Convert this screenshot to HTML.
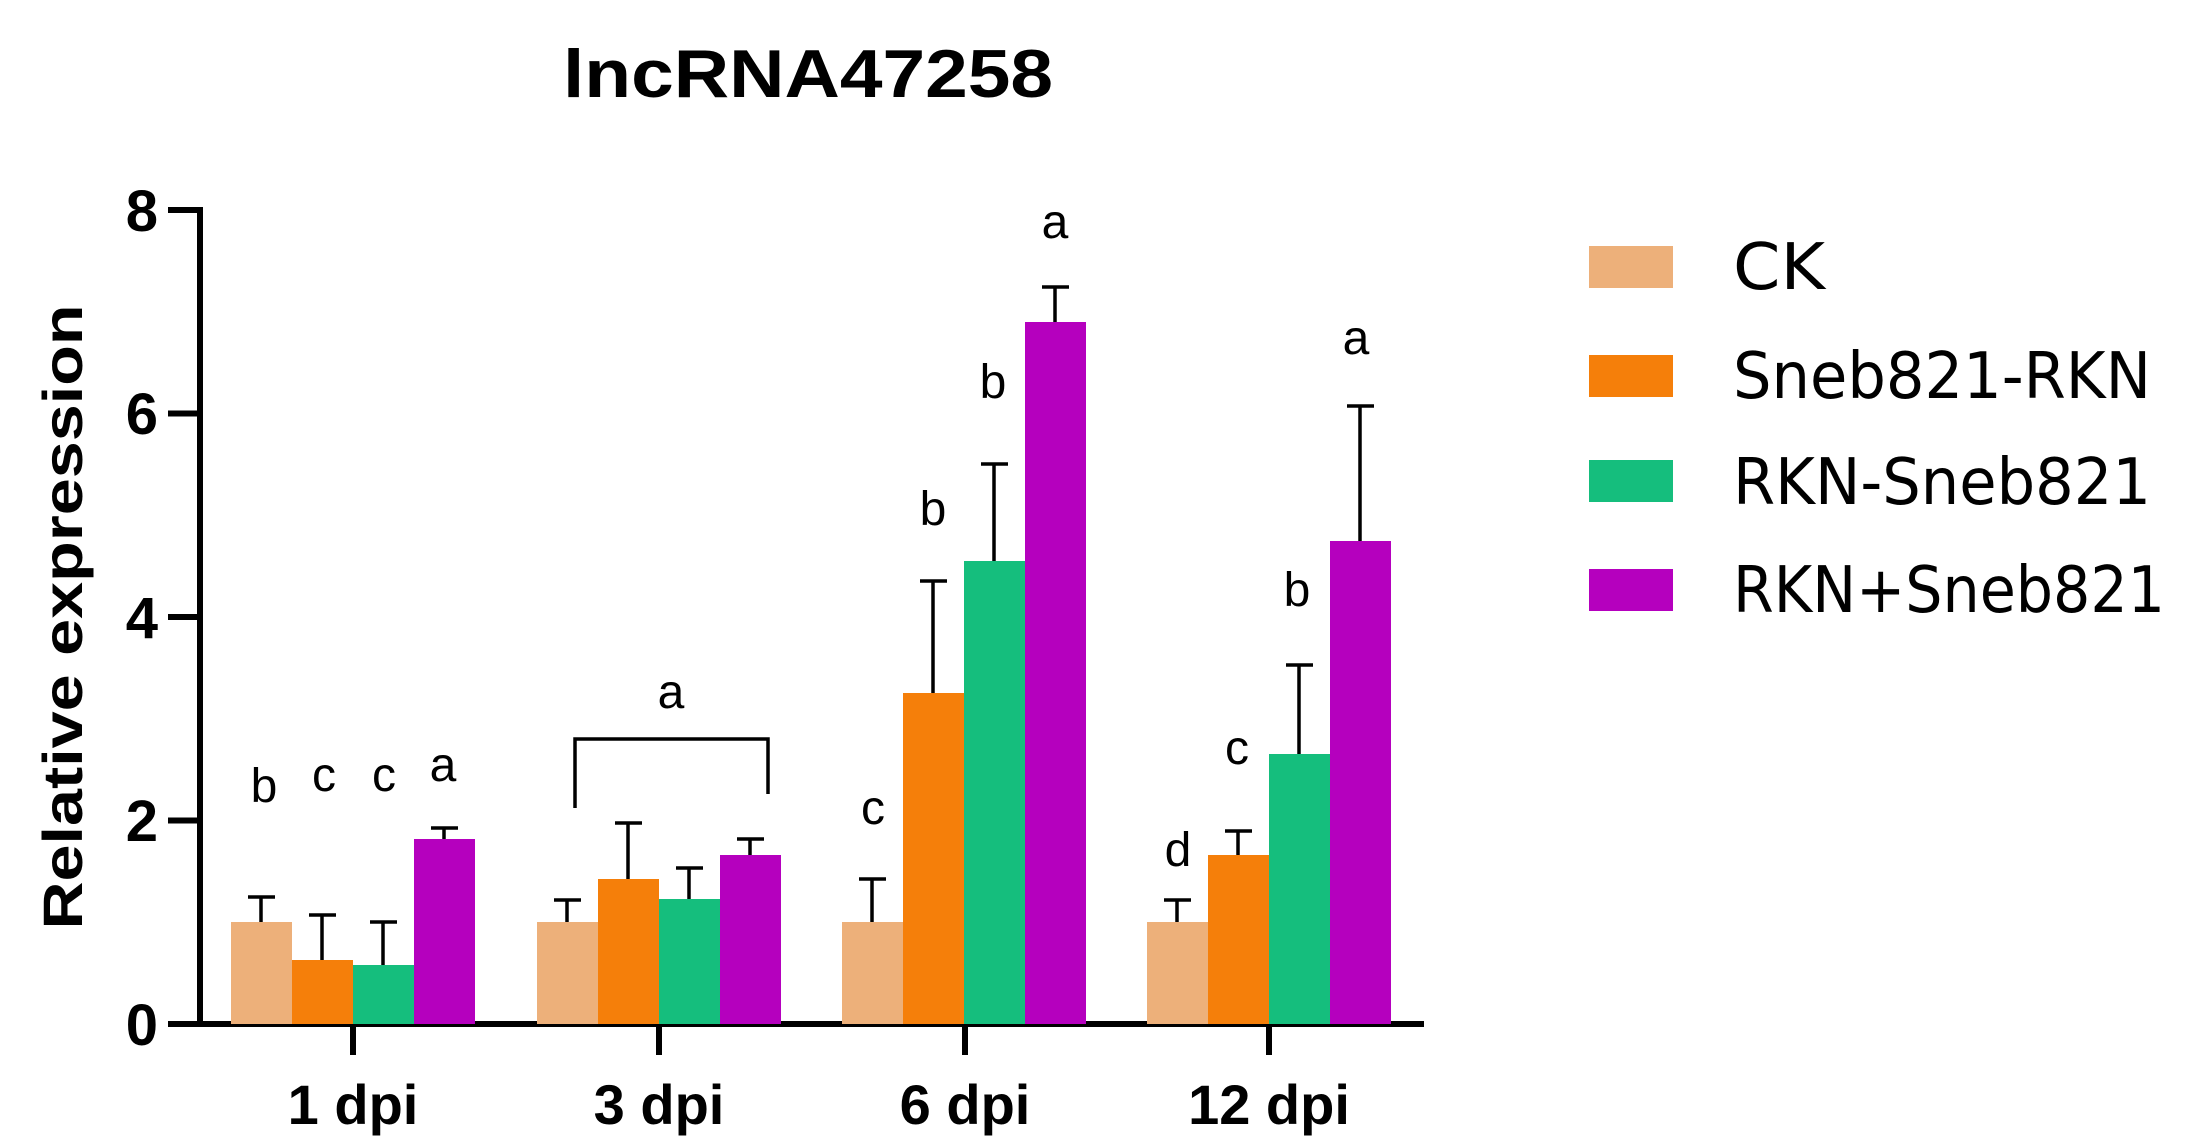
<!DOCTYPE html>
<html><head><meta charset="utf-8"><style>html,body{margin:0;padding:0;background:#fff}svg{display:block}</style></head>
<body>
<svg width="2188" height="1146" viewBox="0 0 2188 1146" xmlns="http://www.w3.org/2000/svg" font-family="Liberation Sans, Arial, sans-serif">
<rect width="2188" height="1146" fill="#fff"/>
<text x="808" y="97" font-size="68" font-weight="bold" text-anchor="middle" textLength="490" lengthAdjust="spacingAndGlyphs">lncRNA47258</text>
<text transform="translate(82,617) rotate(-90)" font-size="56" font-weight="bold" text-anchor="middle" textLength="625" lengthAdjust="spacingAndGlyphs">Relative expression</text>
<g stroke="#000" stroke-width="6" fill="none">
<line x1="200" y1="207" x2="200" y2="1027"/>
<line x1="197" y1="1024" x2="1424" y2="1024"/>
<line x1="168" y1="210" x2="200" y2="210"/>
<line x1="168" y1="413.5" x2="200" y2="413.5"/>
<line x1="168" y1="617" x2="200" y2="617"/>
<line x1="168" y1="820.5" x2="200" y2="820.5"/>
<line x1="168" y1="1024" x2="200" y2="1024"/>
<line x1="353" y1="1024" x2="353" y2="1055"/>
<line x1="659" y1="1024" x2="659" y2="1055"/>
<line x1="965" y1="1024" x2="965" y2="1055"/>
<line x1="1269" y1="1024" x2="1269" y2="1055"/>
</g>
<g font-size="58" font-weight="bold" text-anchor="end">
<text x="158" y="231">8</text><text x="158" y="434">6</text><text x="158" y="638">4</text><text x="158" y="841">2</text><text x="158" y="1045">0</text>
</g>
<g font-size="56" font-weight="bold" text-anchor="middle">
<text x="353" y="1124">1 dpi</text><text x="659" y="1124">3 dpi</text><text x="965" y="1124">6 dpi</text><text x="1269" y="1124">12 dpi</text>
</g>
<g stroke="#000" stroke-width="3.5">
<rect x="231" y="922" width="61" height="102" fill="#EDB07A" stroke="none"/>
<rect x="292" y="960" width="61" height="64" fill="#F57F0A" stroke="none"/>
<rect x="353" y="965" width="61" height="59" fill="#15BE7D" stroke="none"/>
<rect x="414" y="839" width="61" height="185" fill="#B500BE" stroke="none"/>
<path d="M261 922V897M248 897H275M322 960V915M309 915H336M383 965V922M370 922H397M444 839V828M431 828H458"/>
<rect x="537" y="922" width="61" height="102" fill="#EDB07A" stroke="none"/>
<rect x="598" y="879" width="61" height="145" fill="#F57F0A" stroke="none"/>
<rect x="659" y="899" width="61" height="125" fill="#15BE7D" stroke="none"/>
<rect x="720" y="855" width="61" height="169" fill="#B500BE" stroke="none"/>
<path d="M567 922V900M554 900H581M628 879V823M615 823H642M689 899V868M676 868H703M750 855V839M737 839H764"/>
<rect x="842" y="922" width="61" height="102" fill="#EDB07A" stroke="none"/>
<rect x="903" y="693" width="61" height="331" fill="#F57F0A" stroke="none"/>
<rect x="964" y="561" width="61" height="463" fill="#15BE7D" stroke="none"/>
<rect x="1025" y="322" width="61" height="702" fill="#B500BE" stroke="none"/>
<path d="M872 922V879M859 879H886M933 693V581M920 581H947M994 561V464M981 464H1008M1055 322V287M1042 287H1069"/>
<rect x="1147" y="922" width="61" height="102" fill="#EDB07A" stroke="none"/>
<rect x="1208" y="855" width="61" height="169" fill="#F57F0A" stroke="none"/>
<rect x="1269" y="754" width="61" height="270" fill="#15BE7D" stroke="none"/>
<rect x="1330" y="541" width="61" height="483" fill="#B500BE" stroke="none"/>
<path d="M1177 922V900M1164 900H1191M1238 855V831M1225 831H1252M1299 754V665M1286 665H1313M1360 541V406M1347 406H1374"/>
<path d="M575 808V739H768V794" fill="none"/>
</g>
<g font-size="48" text-anchor="middle">
<text x="264" y="802">b</text><text x="324" y="791">c</text><text x="384" y="791">c</text><text x="443" y="781">a</text>
<text x="671" y="708">a</text>
<text x="873" y="824">c</text><text x="933" y="525">b</text><text x="993" y="398">b</text><text x="1055" y="238">a</text>
<text x="1178" y="866">d</text><text x="1237" y="764">c</text><text x="1297" y="606">b</text><text x="1356" y="354">a</text>
</g>
<g>
<rect x="1589" y="246" width="84" height="42" fill="#EDB07A"/>
<rect x="1589" y="355" width="84" height="42" fill="#F57F0A"/>
<rect x="1589" y="460" width="84" height="42" fill="#15BE7D"/>
<rect x="1589" y="569" width="84" height="42" fill="#B500BE"/>
</g>
<g font-size="64" font-family="DejaVu Sans, Liberation Sans, sans-serif">
<text x="1733" y="289" textLength="92" lengthAdjust="spacingAndGlyphs">CK</text>
<text x="1733" y="398" textLength="418" lengthAdjust="spacingAndGlyphs">Sneb821-RKN</text>
<text x="1733" y="504" textLength="418" lengthAdjust="spacingAndGlyphs">RKN-Sneb821</text>
<text x="1733" y="612" textLength="432" lengthAdjust="spacingAndGlyphs">RKN+Sneb821</text>
</g>
</svg>
</body></html>
